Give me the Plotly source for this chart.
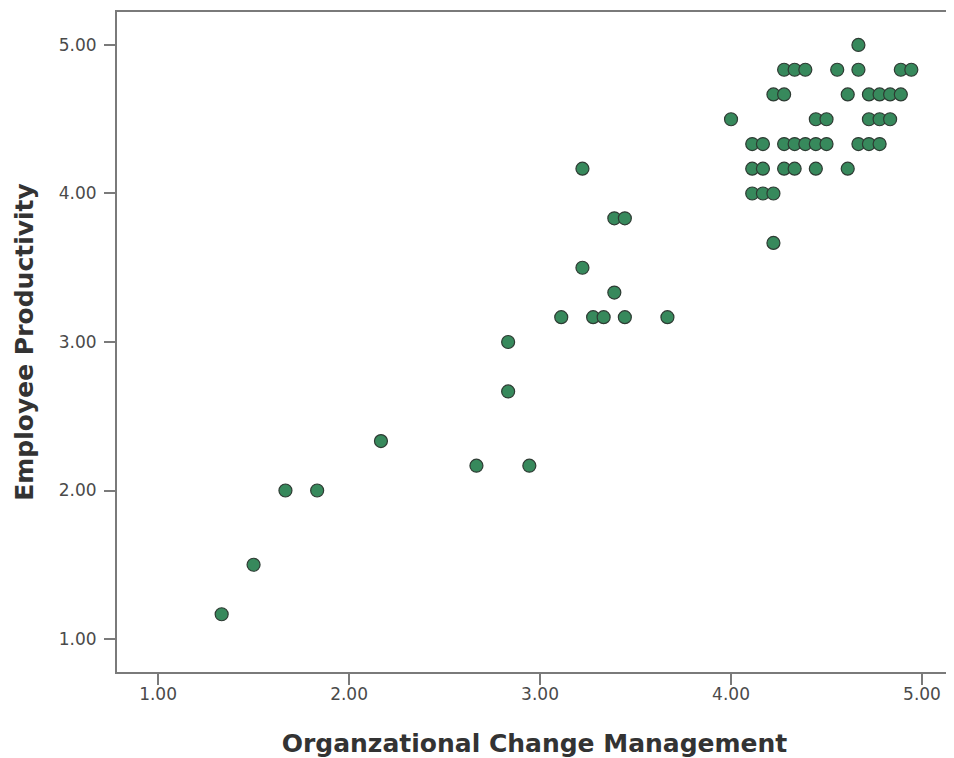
import plotly.graph_objects as go

# Organizational Change Management (x) and Employee Productivity (y)
ocm = [1.333, 1.5, 1.667, 1.833, 2.167, 2.667, 2.833, 2.833, 2.944, 3.111,
       3.222, 3.222, 3.278, 3.333, 3.389, 3.389, 3.444, 3.444, 3.667,
       4.667,
       4.278, 4.333, 4.389, 4.556, 4.667, 4.889, 4.944,
       4.222, 4.278, 4.611, 4.722, 4.778, 4.833, 4.889,
       4.0, 4.444, 4.5, 4.722, 4.778, 4.833,
       4.111, 4.167, 4.278, 4.333, 4.389, 4.444, 4.5, 4.667, 4.722, 4.778,
       4.111, 4.167, 4.278, 4.333, 4.444, 4.611,
       4.111, 4.167, 4.222,
       4.222]
ep = [1.167, 1.5, 2.0, 2.0, 2.333, 2.167, 2.667, 3.0, 2.167, 3.167,
      3.5, 4.167, 3.167, 3.167, 3.333, 3.833, 3.833, 3.167, 3.167,
      5.0,
      4.833, 4.833, 4.833, 4.833, 4.833, 4.833, 4.833,
      4.667, 4.667, 4.667, 4.667, 4.667, 4.667, 4.667,
      4.5, 4.5, 4.5, 4.5, 4.5, 4.5,
      4.333, 4.333, 4.333, 4.333, 4.333, 4.333, 4.333, 4.333, 4.333, 4.333,
      4.167, 4.167, 4.167, 4.167, 4.167, 4.167,
      4.0, 4.0, 4.0,
      3.667]

tick_vals = [1, 2, 3, 4, 5]
tick_text = ["1.00", "2.00", "3.00", "4.00", "5.00"]

fig = go.Figure(go.Scatter(
    x=ocm, y=ep, mode="markers",
    marker=dict(size=13, color="#37895c", line=dict(color="#2e3b33", width=1.2)),
    hoverinfo="x+y",
))

axis_common = dict(
    showgrid=False, zeroline=False, showline=True, linecolor="#7a7a7a", linewidth=2,
    ticks="outside", ticklen=11, tickwidth=2, tickcolor="#7a7a7a",
    tickvals=tick_vals, ticktext=tick_text,
    tickfont=dict(family="DejaVu Sans, Verdana, sans-serif", size=17, color="#4a4a4a"),
)
title_font = dict(family="DejaVu Sans, Verdana, sans-serif", size=25, color="#333333")

fig.update_layout(
    width=946, height=750,
    margin=dict(l=109, r=2, t=4, b=86),
    paper_bgcolor="white", plot_bgcolor="white",
    showlegend=False,
    xaxis=dict(**axis_common, range=[0.785, 5.157], mirror=True, ticklabelstandoff=-5,
               title=dict(text="<b>Organzational Change Management</b>", standoff=31, font=title_font)),
    yaxis=dict(**axis_common, range=[0.778, 5.222], ticklabelstandoff=4,
               title=dict(text="<b>Employee Productivity</b>", standoff=18, font=title_font)),
)

fig.write_html("out.html")
